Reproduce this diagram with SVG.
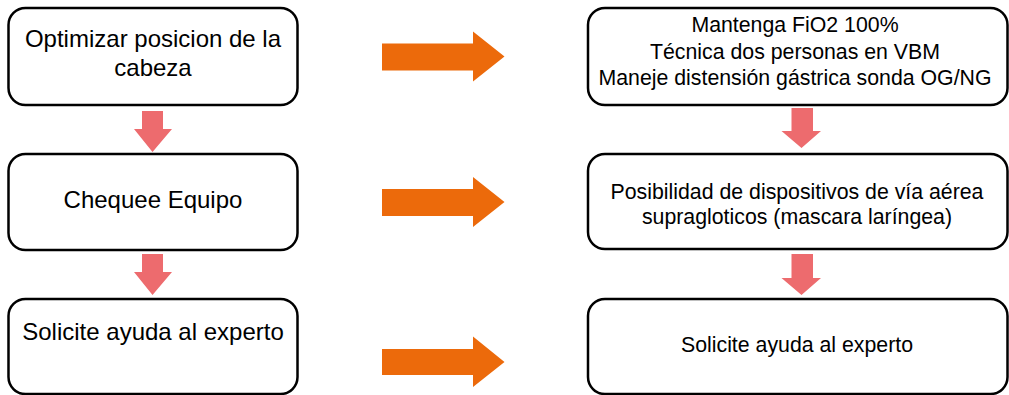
<svg xmlns="http://www.w3.org/2000/svg" width="1009" height="395" viewBox="0 0 1009 395">
<style>
.box{fill:#fff;stroke:#000;stroke-width:2.5}
.t{font-family:"Liberation Sans",Arial,sans-serif;fill:#000;text-anchor:middle}
.l{font-size:24px}
.r{font-size:21.3px}
.down{fill:#ED6B6E}
.right{fill:#EC6A0B}
</style>
<rect width="1009" height="395" fill="#fff"/>
<g id="connectors">
<polygon class="down" points="142,111 163,111 163,129 172,129 152.5,152 134,129 142,129"/>
<polygon class="down" points="142,254 163,254 163,272 172,272 152.5,295 134,272 142,272"/>
<polygon class="down" points="791.5,108 813,108 813,131 821,131 801.5,148 781.5,131 791.5,131"/>
<polygon class="down" points="791.5,254 813,254 813,278 821,278 801.5,295 781.5,278 791.5,278"/>
<polygon class="right" points="382,43.5 473,43.5 473,31.5 504.5,56.5 473,81.5 473,70.5 382,70.5"/>
<polygon class="right" points="382,189 473,189 473,177 504.5,202 473,227 473,216 382,216"/>
<polygon class="right" points="382,349 473,349 473,336.5 504.5,362 473,387 473,375 382,375"/>
</g>
<g id="n1">
<rect class="box" x="8.5" y="8" width="289" height="97" rx="17"/>
<text class="t l" x="153" y="47">Optimizar posicion de la</text>
<text class="t l" x="153" y="76">cabeza</text>
</g>
<g id="n2">
<rect class="box" x="8.5" y="154" width="289" height="96" rx="17"/>
<text class="t l" x="153" y="208">Chequee Equipo</text>
</g>
<g id="n3">
<rect class="box" x="8.5" y="299" width="289" height="95" rx="17"/>
<text class="t l" x="153" y="340">Solicite ayuda al experto</text>
</g>
<g id="n4">
<rect class="box" x="588" y="8" width="419.5" height="97" rx="17"/>
<text class="t r" x="795" y="32">Mantenga FiO2 100%</text>
<text class="t r" x="795" y="58.5">Técnica dos personas en VBM</text>
<text class="t r" x="795" y="85">Maneje distensión gástrica sonda OG/NG</text>
</g>
<g id="n5">
<rect class="box" x="588" y="154" width="419.5" height="95" rx="17"/>
<text class="t r" x="797" y="199">Posibilidad de dispositivos de vía aérea</text>
<text class="t r" x="797" y="223.5">supragloticos (mascara laríngea)</text>
</g>
<g id="n6">
<rect class="box" x="588" y="299" width="419.5" height="95" rx="17"/>
<text class="t r" x="797" y="352">Solicite ayuda al experto</text>
</g>
</svg>
